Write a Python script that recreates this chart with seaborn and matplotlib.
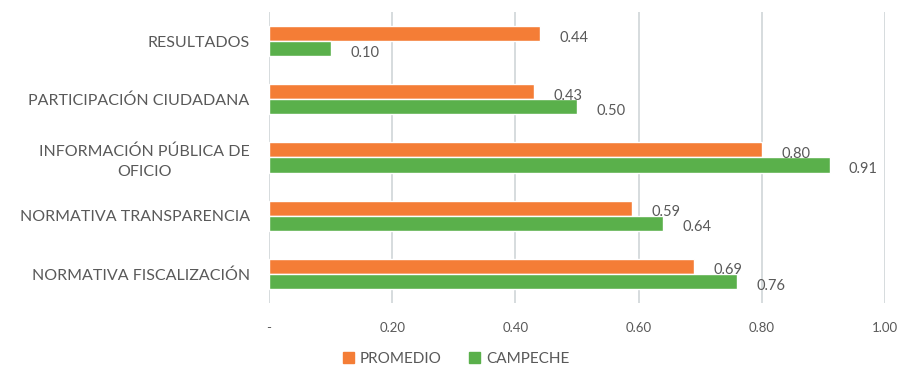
import matplotlib
matplotlib.use("Agg")
import matplotlib.pyplot as plt
import seaborn as sns
import pandas as pd

categories = [
    "RESULTADOS",
    "PARTICIPACIÓN CIUDADANA",
    "INFORMACIÓN PÚBLICA DE\nOFICIO",
    "NORMATIVA TRANSPARENCIA",
    "NORMATIVA FISCALIZACIÓN",
]
series_names = ["PROMEDIO", "CAMPECHE"]
promedio = [0.44, 0.43, 0.80, 0.59, 0.69]
campeche = [0.10, 0.50, 0.91, 0.64, 0.76]
x_ticks = [0.0, 0.2, 0.4, 0.6, 0.8, 1.0]
x_tick_labels = ["-", "0.20", "0.40", "0.60", "0.80", "1.00"]

colors = ["#F47D36", "#5AB04B"]
text_color = "#595959"

df = pd.DataFrame({
    "categoria": categories * 2,
    "serie": [series_names[0]] * len(categories) + [series_names[1]] * len(categories),
    "valor": promedio + campeche,
})

sns.set_theme(style="white")
plt.rcParams["font.family"] = ["Lato", "DejaVu Sans"]

fig = plt.figure(figsize=(9.03, 3.65), dpi=100)
ax = fig.add_axes([0.298, 0.170, 0.682, 0.797])

sns.barplot(
    data=df, y="categoria", x="valor", hue="serie", orient="h",
    palette=colors, width=0.52, ax=ax, legend=True, saturation=1,
)

ax.set_xlim(0, 1.0)
ax.set_ylim(len(categories) - 0.5, -0.5)
ax.set_xticks(x_ticks)
ax.set_xticklabels(x_tick_labels, color=text_color, fontsize=9.5)
ax.tick_params(axis="x", length=0, pad=14)
ax.tick_params(axis="y", length=0, pad=14)
for lbl in ax.get_yticklabels():
    lbl.set_color(text_color)
    lbl.set_fontsize(11.5)
    lbl.set_multialignment("center")
    lbl.set_linespacing(1.5)
ax.set_xlabel("")
ax.set_ylabel("")
ax.xaxis.grid(True, color="#D0D5D8", linewidth=1.2)
ax.set_axisbelow(True)
for s in ax.spines.values():
    s.set_visible(False)

# value labels at the end of each bar, sitting slightly low
for container in ax.containers:
    ax.bar_label(container, fmt="%.2f", padding=14, color=text_color,
                 fontsize=10.5, label_type="edge")
for t in ax.texts:
    t.set_va("center")
    t.xyann = (14, -3)

ax.legend_.remove()
handles = [plt.Rectangle((0, 0), 1, 1, color=c) for c in colors]
fig.legend(handles, series_names, loc="lower center", bbox_to_anchor=(0.505, -0.04),
           ncol=2, frameon=False, fontsize=11, labelcolor=text_color,
           handlelength=0.7, handleheight=0.7, handletextpad=0.4, columnspacing=1.8)

fig.savefig("out.png", dpi=100)
